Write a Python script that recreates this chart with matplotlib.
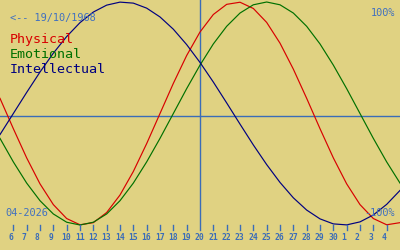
import numpy as np
from matplotlib import pyplot as plt

# days shown: 5 April .. 5 May 2026 (index 0..30)
day_labels = ["6", "7", "8", "9", "10", "11", "12", "13", "14", "15", "16", "17",
              "18", "19", "20", "21", "22", "23", "24", "25", "26", "27", "28",
              "29", "30", "1", "2", "3", "4"]
today = 15

physical = [0.136, -0.136, -0.398, -0.631, -0.817, -0.942, -0.998, -0.979, -0.888,
            -0.731, -0.520, -0.270, 0.0, 0.270, 0.520, 0.731, 0.888, 0.979, 0.998,
            0.942, 0.817, 0.631, 0.398, 0.136, -0.136, -0.398, -0.631, -0.817,
            -0.942, -0.998, -0.979]
emotional = [-0.223, -0.434, -0.624, -0.782, -0.901, -0.975, -1.0, -0.975, -0.901,
             -0.782, -0.624, -0.434, -0.223, 0.0, 0.223, 0.434, 0.624, 0.782, 0.901,
             0.975, 1.0, 0.975, 0.901, 0.782, 0.624, 0.434, 0.223, 0.0, -0.223,
             -0.434, -0.624]
intellectual = [-0.189, 0.0, 0.189, 0.372, 0.541, 0.690, 0.815, 0.910, 0.972, 0.999,
                0.990, 0.945, 0.866, 0.756, 0.618, 0.458, 0.282, 0.095, -0.095,
                -0.282, -0.458, -0.618, -0.756, -0.866, -0.945, -0.990, -0.999,
                -0.972, -0.910, -0.815, -0.690]

bg = "#e0d282"
axcol = "#3a6cb8"
mono = "DejaVu Sans Mono"

fig = plt.figure(figsize=(4, 2.5), dpi=100, facecolor=bg)
ax = fig.add_axes([0, 0, 1, 1])
ax.set_facecolor(bg)
ax.set_xlim(0, 30)
ax.set_ylim(-1.2242, 1.018)
for s in ax.spines.values():
    s.set_visible(False)
ax.set_xticks([])
ax.set_yticks([])

days = np.arange(len(physical))
trans = ax.get_xaxis_transform()

# zero line and today line
ax.plot([0, 1], [0.538, 0.538], color=axcol, lw=1, transform=ax.transAxes)
ax.plot([today, today], [0.08, 1], color=axcol, lw=1, transform=trans)

ax.plot(days, physical, color="#d80000", lw=0.85)
ax.plot(days, emotional, color="#007000", lw=0.85)
ax.plot(days, intellectual, color="#000080", lw=0.85)

# day ticks
for i, lab in enumerate(day_labels):
    d = i + 1
    if d != today:
        ax.plot([d, d], [0.08, 0.1], color=axcol, lw=1, transform=trans)
    ax.text(d - 0.38, 0.04, lab, color=axcol, fontsize=5.8, family=mono,
            ha="left", va="baseline", transform=trans, fontweight="bold")

ax.text(10/400, 1 - 21/250, "<-- 19/10/1968", color="#4070c0", fontsize=7.4,
        family=mono, transform=ax.transAxes, va="baseline")
ax.text(10/400, 1 - 43/250, "Physical", color="#d80000", fontsize=9.6,
        family=mono, transform=ax.transAxes, va="baseline")
ax.text(10/400, 1 - 58/250, "Emotional", color="#007000", fontsize=9.6,
        family=mono, transform=ax.transAxes, va="baseline")
ax.text(10/400, 1 - 73/250, "Intellectual", color="#000080", fontsize=9.6,
        family=mono, transform=ax.transAxes, va="baseline")
ax.text(395/400, 1 - 16/250, "100%", color="#4070c0", fontsize=7.4,
        family=mono, transform=ax.transAxes, va="baseline", ha="right")
ax.text(395/400, 1 - 216/250, "-100%", color="#4070c0", fontsize=7.4,
        family=mono, transform=ax.transAxes, va="baseline", ha="right")
ax.text(5/400, 1 - 216/250, "04-2026", color="#4070c0", fontsize=7.4,
        family=mono, transform=ax.transAxes, va="baseline")

fig.savefig("out.png", dpi=100, facecolor=bg)
